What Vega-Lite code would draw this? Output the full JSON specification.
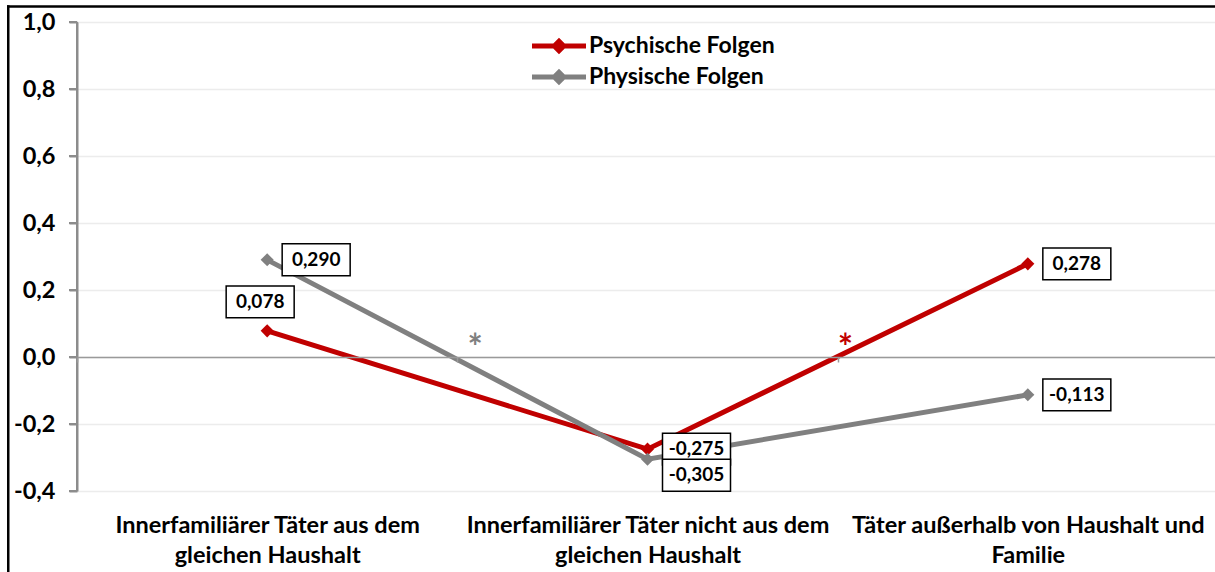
{
  "$schema": "https://vega.github.io/schema/vega-lite/v6.json",
  "width": 1141,
  "height": 469,
  "autosize": "none",
  "padding": {"left": 77, "top": 22, "right": 0, "bottom": 81},
  "background": "white",
  "config": {
    "locale": {"number": {"decimal": ",", "thousands": ".", "grouping": [3], "currency": ["", " €"], "minus": "-"}},
    "view": {"stroke": null},
    "font": "Lato"
  },
  "datasets": {
    "main": [
      {"cat": "Innerfamiliärer Täter aus dem\ngleichen Haushalt", "series": "Psychische Folgen", "value": 0.078, "pos": "above"},
      {"cat": "Innerfamiliärer Täter nicht aus dem\ngleichen Haushalt", "series": "Psychische Folgen", "value": -0.275, "pos": "right"},
      {"cat": "Täter außerhalb von Haushalt und\nFamilie", "series": "Psychische Folgen", "value": 0.278, "pos": "right"},
      {"cat": "Innerfamiliärer Täter aus dem\ngleichen Haushalt", "series": "Physische Folgen", "value": 0.29, "pos": "right"},
      {"cat": "Innerfamiliärer Täter nicht aus dem\ngleichen Haushalt", "series": "Physische Folgen", "value": -0.305, "pos": "below"},
      {"cat": "Täter außerhalb von Haushalt und\nFamilie", "series": "Physische Folgen", "value": -0.113, "pos": "right"}
    ],
    "sig": [
      {"cat": "Innerfamiliärer Täter aus dem\ngleichen Haushalt", "series": "Physische Folgen", "value": 0.06, "mark": "*"},
      {"cat": "Innerfamiliärer Täter nicht aus dem\ngleichen Haushalt", "series": "Psychische Folgen", "value": 0.06, "mark": "*"}
    ],
    "frame": [
      {"first": "Innerfamiliärer Täter aus dem\ngleichen Haushalt", "last": "Täter außerhalb von Haushalt und\nFamilie", "low": -0.4, "high": 1.0, "edge": 1.0463, "bottom": -0.7}
    ],
    "yticks": [
      {"first": "Innerfamiliärer Täter aus dem\ngleichen Haushalt", "t": -0.4},
      {"first": "Innerfamiliärer Täter aus dem\ngleichen Haushalt", "t": -0.2},
      {"first": "Innerfamiliärer Täter aus dem\ngleichen Haushalt", "t": 0.0},
      {"first": "Innerfamiliärer Täter aus dem\ngleichen Haushalt", "t": 0.2},
      {"first": "Innerfamiliärer Täter aus dem\ngleichen Haushalt", "t": 0.4},
      {"first": "Innerfamiliärer Täter aus dem\ngleichen Haushalt", "t": 0.6},
      {"first": "Innerfamiliärer Täter aus dem\ngleichen Haushalt", "t": 0.8},
      {"first": "Innerfamiliärer Täter aus dem\ngleichen Haushalt", "t": 1.0}
    ]
  },
  "data": {"name": "main"},
  "encoding": {
    "x": {
      "field": "cat", "type": "nominal", "sort": null,
      "scale": {
        "domain": ["Innerfamiliärer Täter aus dem\ngleichen Haushalt", "Innerfamiliärer Täter nicht aus dem\ngleichen Haushalt", "Täter außerhalb von Haushalt und\nFamilie"],
        "paddingInner": 0, "paddingOuter": 0
      },
      "axis": {
        "title": null, "offset": -134, "labelAngle": 0,
        "domain": true, "domainColor": "#9a9a9a", "domainWidth": 1.5,
        "ticks": true, "tickBand": "extent", "tickSize": 5, "tickColor": "#9a9a9a", "tickWidth": 1.5,
        "labelExpr": "split(datum.label, '\\n')",
        "labelFontSize": 23.5, "labelFontWeight": "bold", "labelColor": "black",
        "labelLineHeight": 30, "labelPadding": 151, "labelLimit": 600, "labelBaseline": "top",
        "grid": false
      }
    },
    "y": {
      "field": "value", "type": "quantitative",
      "scale": {"domain": [-0.4, 1.0], "nice": false, "zero": false},
      "axis": {
        "title": null, "values": [-0.4, -0.2, 0, 0.2, 0.4, 0.6, 0.8, 1.0], "format": ".1f",
        "labelFontSize": 23.5, "labelFontWeight": "bold", "labelColor": "black", "labelPadding": 14,
        "domain": true, "domainColor": "#8c8c8c", "domainWidth": 2,
        "ticks": true, "tickColor": "#8c8c8c", "tickWidth": 2, "tickSize": 8,
        "grid": true, "gridColor": "#ececec", "gridWidth": 1.5
      }
    }
  },
  "layer": [
    {
      "data": {"name": "frame"},
      "mark": {"type": "rect", "color": "#8c8c8c", "clip": false, "xOffset": -1, "x2Offset": 1},
      "encoding": {
        "x": {"field": "first", "type": "nominal", "bandPosition": 0},
        "x2": {"field": "first", "bandPosition": 0},
        "y": {"field": "low", "type": "quantitative"},
        "y2": {"field": "high"}
      }
    },
    {
      "data": {"name": "yticks"},
      "mark": {"type": "rect", "color": "#8c8c8c", "clip": false, "xOffset": -8, "x2Offset": 0, "yOffset": -1, "y2Offset": 1},
      "encoding": {
        "x": {"field": "first", "type": "nominal", "bandPosition": 0},
        "x2": {"field": "first", "bandPosition": 0},
        "y": {"field": "t", "type": "quantitative"},
        "y2": {"field": "t"}
      }
    },
    {
      "data": {"name": "frame"},
      "mark": {"type": "rect", "color": "black", "clip": false, "xOffset": -70, "x2Offset": -67.5, "yOffset": -1.25},
      "encoding": {
        "x": {"field": "first", "type": "nominal", "bandPosition": 0},
        "x2": {"field": "first", "bandPosition": 0},
        "y": {"field": "edge", "type": "quantitative"},
        "y2": {"field": "bottom"}
      }
    },
    {
      "data": {"name": "frame"},
      "mark": {"type": "rect", "color": "black", "clip": false, "xOffset": -70, "yOffset": -1.25, "y2Offset": 1.25},
      "encoding": {
        "x": {"field": "first", "type": "nominal", "bandPosition": 0},
        "x2": {"field": "last", "bandPosition": 1},
        "y": {"field": "edge", "type": "quantitative"},
        "y2": {"field": "edge"}
      }
    },
    {
      "mark": {"type": "line", "strokeWidth": 5},
      "encoding": {
        "color": {
          "field": "series", "type": "nominal",
          "scale": {"domain": ["Psychische Folgen", "Physische Folgen"], "range": ["#C00000", "#808080"]},
          "legend": {
            "title": null, "orient": "none", "legendX": 466, "legendY": 8,
            "symbolType": "M-2,0H2M-0.35,0L0,-0.35L0.35,0L0,0.35Z",
            "symbolSize": 729, "symbolStrokeWidth": 5,
            "labelFontSize": 23, "labelFontWeight": "bold", "labelColor": "black", "labelOffset": 14,
            "labelLimit": 500, "rowPadding": 0
          }
        }
      }
    },
    {
      "mark": {"type": "point", "shape": "diamond", "filled": true, "size": 170, "opacity": 1},
      "encoding": {
        "color": {"field": "series", "type": "nominal"}
      }
    },
    {
      "mark": {
        "type": "point", "shape": "M-1,-0.47H1V0.47H-1Z", "size": 4624, "filled": false,
        "fill": "white", "fillOpacity": 1, "stroke": "black", "strokeWidth": 1.5, "opacity": 1,
        "xOffset": {"expr": "datum.pos == 'above' ? -7 : 49"},
        "yOffset": {"expr": "datum.pos == 'above' ? -29 : datum.pos == 'below' ? 16 : 0"}
      }
    },
    {
      "mark": {
        "type": "text", "fontSize": 19, "fontWeight": "bold", "color": "black", "align": "center", "baseline": "middle",
        "xOffset": {"expr": "datum.pos == 'above' ? -7 : 49"},
        "yOffset": {"expr": "datum.pos == 'above' ? -29 : datum.pos == 'below' ? 16 : 0"}
      },
      "encoding": {
        "text": {"field": "value", "type": "quantitative", "format": ".3f"}
      }
    },
    {
      "data": {"name": "sig"},
      "mark": {
        "type": "text", "fontSize": 36, "fontWeight": "bold", "align": "center", "baseline": "middle", "dy": 12,
        "xOffset": {"expr": "datum.series == 'Physische Folgen' ? 208 : 198"}
      },
      "encoding": {
        "text": {"field": "mark"},
        "color": {"field": "series", "type": "nominal", "legend": null}
      }
    }
  ]
}
